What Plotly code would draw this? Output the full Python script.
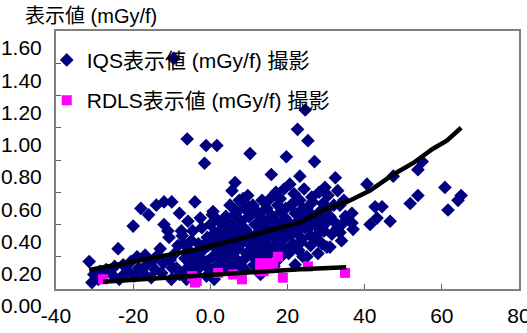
import plotly.graph_objects as go

# ---- data ----
iqs_x = [
    -31.4, -30.7, -30.2, -29.0, -28.6, -27.0, -25.5, -24.8, -23.9, -23.6, -22.6, -22.0,
    -21.3, -20.6, -19.8, -19.0, -18.6, -17.4, -16.9, -16.5, -15.3, -14.8, -14.3, -13.6,
    -13.0, -12.6, -12.2, -11.0, -10.7, -10.4, -10.1, -9.9, -9.2, -8.8, -8.4, -8.0,
    -7.3, -7.0, -6.8, -6.6, -6.2, -5.8, -5.6, -5.2, -4.9, -4.6, -4.0, -3.9, -3.6,
    -3.1, -2.9, -2.6, -2.2, -2.0, -1.8, -1.1, -1.0, -0.8, -0.5, -0.2, 0.0, 0.3, 0.6,
    0.7, 1.0, 1.2, 1.5, 1.7, 2.0, 2.2, 2.4, 2.8, 3.0, 3.2, 3.5, 3.8, 4.0, 4.3, 4.6,
    4.9, 5.1, 5.4, 5.6, 5.9, 6.1, 6.4, 6.6, 6.9, 7.2, 7.5, 7.8, 8.0, 8.3, 8.6, 8.9,
    9.1, 9.4, 9.7, 10.0, 10.3, 10.5, 10.8, 11.0, 11.3, 11.6, 11.9, 12.2, 12.5, 12.8,
    13.1, 13.4, 13.7, 14.0, 14.3, 14.6, 14.9, 15.2, 15.5, 15.8, 16.1, 16.4, 16.7,
    17.0, 17.3, 17.6, 17.9, 18.1, 18.3, 18.6, 18.9, 19.1, 19.4, 19.7, 20.0, 20.3,
    20.6, 20.9, 21.2, 21.4, 21.7, 22.0, 22.3, 22.6, 22.9, 23.2, 23.2, 23.5, 23.8,
    24.0, 24.3, 24.6, 25.0, 25.3, 25.6, 26.0, 26.3, 26.6, 27.0, 27.4, 27.9, 28.2,
    28.4, 28.7, 29.0, 29.2, 29.7, 30.0, 30.2, 30.5, 31.0, 31.5, 32.4, 33.0, 33.6,
    33.6, 34.1, 34.6, 35.3, 36.7, 36.7, 37.0, 40.6, 41.4, 42.7, 43.2, 44.5, 46.6,
    47.4, 51.8, 53.8, 53.8, 54.9, 60.8, 61.6, 64.2, 65.0,
    -18.0, -12.0, -9.5, -6.0, -1.5, 0.5, 1.8, 2.6, 3.4, 4.5, 6.3, 7.7, 8.8, 9.9,
    11.5, 12.9, 14.2, 15.7, 17.2, 18.8, 20.2, 21.8, 23.0, 24.5, 26.2, 27.8, 29.4,
    -20.0, -16.0, -14.0, -12.0, -10.0, -8.0, -6.0, -5.0, -4.0, -3.0, -2.0, -1.0,
    -0.5, 0.5, 1.0, 1.5, 2.0, 2.5, 3.0, 3.5, 4.0, 4.5, 5.0, 5.5, 6.0, 6.5, 7.0,
    7.5, 8.0, 8.5, 9.0, 9.5, 10.0, 10.5, 11.0, 11.5, 12.0, 12.5, 13.0, 13.5, 14.0,
    14.5, 15.0, 15.5, 16.0, 16.5, 17.0, 17.5, 18.0, 18.5, 19.0, 19.5, 20.0, 20.5,
    21.0, 21.5, 22.0, 22.5, 23.0, 23.5, 24.0, 24.5, 25.0, 25.5, 26.0, 26.5, 27.0,
    28.0, 28.5, 29.5, 30.5, 31.0, 32.0, 32.0, 33.0, 34.0, 35.0, -7.5,
]
iqs_y = [
    0.17, 0.04, 0.09, 0.06, 0.11, 0.12, 0.09, 0.14, 0.25, 0.06, 0.15, 0.10,
    0.11, 0.17, 0.08, 0.20, 0.13, 0.10, 0.21, 0.15, 0.07, 0.18, 0.12, 0.21,
    0.25, 0.10, 0.16, 0.36, 0.32, 0.18, 0.06, 0.13, 0.22, 0.13, 0.27, 0.09,
    0.33, 0.28, 0.11, 0.19, 0.06, 0.42, 0.24, 0.15, 0.30, 0.36, 0.54, 0.20, 0.09,
    0.28, 0.13, 0.44, 0.38, 0.24, 0.17, 0.89, 0.08, 0.32, 0.27, 0.12, 0.40, 0.30,
    0.20, 0.48, 0.06, 0.35, 0.25, 0.89, 0.15, 0.42, 0.30, 0.22, 0.12, 0.38, 0.27,
    0.18, 0.45, 0.33, 0.24, 0.14, 0.52, 0.40, 0.61, 0.29, 0.20, 0.66, 0.47, 0.35,
    0.25, 0.55, 0.13, 0.42, 0.30, 0.18, 0.50, 0.37, 0.22, 0.58, 0.45, 0.84, 0.33,
    0.26, 0.52, 0.15, 0.40, 0.29, 0.19, 0.47, 0.36, 0.24, 0.55, 0.43, 0.31, 0.20,
    0.50, 0.38, 0.27, 0.56, 0.71, 0.45, 0.33, 0.23, 0.60, 0.41, 0.30, 0.19, 0.56,
    0.48, 0.36, 0.26, 0.62, 0.44, 0.82, 0.33, 0.22, 0.65, 0.52, 0.39, 0.28, 0.59,
    0.47, 0.35, 0.99, 0.24, 0.70, 0.55, 0.42, 0.31, 0.20, 0.62, 1.11, 0.50, 0.92,
    0.38, 0.27, 0.57, 0.45, 0.79, 0.33, 0.22, 0.60, 0.48, 0.36, 0.28, 0.53, 0.63,
    0.41, 0.26, 0.58, 0.45, 0.34, 0.69, 0.61, 0.52, 0.35, 0.40, 0.55, 0.44, 0.47,
    0.41, 0.37, 0.65, 0.40, 0.51, 0.44, 0.51, 0.42, 0.70, 0.53, 0.74, 0.58, 0.79, 0.63,
    0.49, 0.55, 0.58, 0.50, 0.54, 1.43, 0.93, 0.78, 0.46,
    0.27, 0.29, 0.38, 0.34, 0.46, 0.38, 0.34, 0.51, 0.19, 0.36, 0.40, 0.44, 0.38, 0.42,
    0.36, 0.40, 0.37, 0.44, 0.46, 0.43, 0.44, 0.39, 0.46, 0.52, 0.40, 0.54, 0.47,
    0.12, 0.09, 0.14, 0.20, 0.24, 0.17, 0.30, 0.12, 0.33, 0.21, 0.35, 0.15,
    0.23, 0.32, 0.17, 0.41, 0.26, 0.10, 0.35, 0.49, 0.16, 0.27, 0.38, 0.56, 0.12, 0.33, 0.45,
    0.27, 0.51, 0.20, 0.34, 0.46, 0.09, 0.27, 0.40, 0.50, 0.21, 0.33, 0.45, 0.14, 0.27,
    0.52, 0.39, 0.21, 0.31, 0.50, 0.42, 0.25, 0.34, 0.53, 0.15, 0.37, 0.45, 0.29,
    0.50, 0.38, 0.20, 0.44, 0.33, 0.54, 0.40, 0.30, 0.46, 0.36, 0.50, 0.26, 0.42,
    0.52, 0.38, 0.30, 0.45, 0.36, 0.50, 0.41, 0.33, 0.45, 0.38, 0.38,
]
rdls_x = [-27.8, -4.7, -3.5, -4.0, 2.0, 5.9, 8.2, 12.9, 12.9, 13.8, 15.0, 16.3, 17.5, 18.8, 25.3, 34.9]
rdls_y = [0.06, 0.08, 0.05, 0.04, 0.10, 0.09, 0.06, 0.16, 0.11, 0.11, 0.16, 0.15, 0.20, 0.07, 0.14, 0.10]

# trend lines
iqs_trend_x = [-31.4, -21.6, -13.0, -4.5, 4.3, 12.9, 23.2, 30.2, 35.4, 41.4, 47.4, 52.5, 57.7, 61.3, 65.0]
iqs_trend_y = [0.118, 0.16, 0.20, 0.24, 0.29, 0.345, 0.413, 0.50, 0.54, 0.61, 0.71, 0.78, 0.87, 0.92, 1.00]
rdls_trend_x = [-27.8, -13.0, -4.5, 4.3, 12.9, 23.2, 35.2]
rdls_trend_y = [0.045, 0.068, 0.077, 0.095, 0.107, 0.122, 0.135]

x_tickvals = [-40, -20, 0, 20, 40, 60, 80]
x_ticktext = ["-40", "-20", "0.0", "20", "40", "60", "80"]
y_tickvals = [0, 0.2, 0.4, 0.6, 0.8, 1.0, 1.2, 1.4, 1.6]

series_names = ["IQS表示値 (mGy/f) 撮影", "RDLS表示値 (mGy/f) 撮影"]
title_text = "表示値 (mGy/f)"

FONT = "Liberation Sans, Arial, Noto Sans CJK JP, sans-serif"

fig = go.Figure()
fig.add_trace(go.Scatter(
    x=iqs_x, y=iqs_y, mode="markers", name=series_names[0], legendgroup="a",
    marker=dict(symbol="diamond", size=10.5, color="#000080", line=dict(width=0)),
))
fig.add_trace(go.Scatter(
    x=rdls_x, y=rdls_y, mode="markers", name=series_names[1], legendgroup="b",
    marker=dict(symbol="square", size=10, color="#FF00FF", line=dict(width=0)),
))
fig.add_trace(go.Scatter(
    x=iqs_trend_x, y=iqs_trend_y, mode="lines", showlegend=False,
    line=dict(color="black", width=4.5), hoverinfo="skip",
))
fig.add_trace(go.Scatter(
    x=rdls_trend_x, y=rdls_trend_y, mode="lines", showlegend=False,
    line=dict(color="black", width=4.5), hoverinfo="skip",
))

fig.update_layout(
    width=527, height=333,
    margin=dict(l=56, r=8, t=31, b=44, autoexpand=False),
    paper_bgcolor="white", plot_bgcolor="white",
    font=dict(family=FONT, size=21, color="black"),
    showlegend=True,
    legend=dict(
        x=-0.02, y=0.966, xanchor="left", yanchor="top",
        bgcolor="rgba(0,0,0,0)", borderwidth=0,
        font=dict(family=FONT, size=21, color="black"),
        tracegroupgap=10, traceorder="grouped",
    ),
    annotations=[dict(
        text=title_text, xref="paper", yref="paper",
        x=(91 - 56) / 463, y=(289 - 16) / 258, xanchor="center", yanchor="middle",
        showarrow=False, font=dict(family=FONT, size=20, color="black"),
    )],
)
fig.update_xaxes(
    range=[-40, 80], tickvals=x_tickvals, ticktext=x_ticktext,
    showgrid=False, zeroline=False,
    showline=True, linecolor="#808080", linewidth=2, mirror=True,
    ticks="inside", ticklen=5, tickcolor="#606060", tickwidth=1,
    ticklabelstandoff=7, ticklabeloverflow="allow",
)
fig.update_yaxes(
    range=[0, 1.6], tickvals=y_tickvals, tickformat=".2f",
    showgrid=False, zeroline=False,
    showline=True, linecolor="#808080", linewidth=2, mirror=True,
    ticks="inside", ticklen=5, tickcolor="#606060", tickwidth=1,
    ticklabelshift=17, ticklabelstandoff=8, ticklabeloverflow="allow",
)

post = (
    "document.body.style.margin='0';"
    "var gd=document.getElementById('{plot_id}');"
    "Plotly.newPlot(gd, gd.data, gd.layout, {displayModeBar:false});"
)
fig.write_html("out.html", config={"displayModeBar": False}, post_script=post)
